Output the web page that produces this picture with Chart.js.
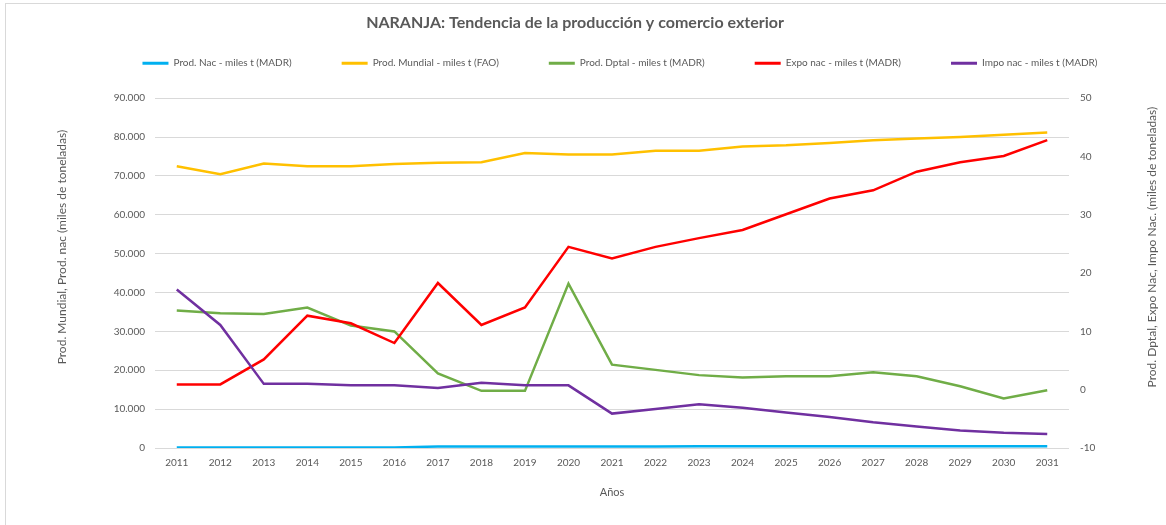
<!DOCTYPE html>
<html>
<head>
<meta charset="utf-8">
<title>Naranja</title>
<script src="https://cdn.jsdelivr.net/npm/chart.js@4.4.0/dist/chart.umd.min.js"></script>
<style>
  html, body { margin: 0; padding: 0; background: #fff; }
  #wrap { position: relative; width: 1166px; height: 525px; overflow: hidden; }
  #frame { position: absolute; left: 5px; top: 3px; width: 1200px; height: 600px;
           border-left: 1px solid #d9d9d9; border-top: 1px solid #d9d9d9; }
  canvas { position: absolute; left: 0; top: 0; }
</style>
</head>
<body>
<div id="wrap">
  <div id="frame"></div>
  <canvas id="myChart" width="1166" height="525"></canvas>
</div>
<script>
const years = ['2011', '2012', '2013', '2014', '2015', '2016', '2017', '2018', '2019', '2020',
  '2021', '2022', '2023', '2024', '2025', '2026', '2027', '2028', '2029', '2030', '2031'];

// eje izquierdo (miles de t)
const prodNac = [120, 120, 120, 120, 130, 130, 390, 400, 400, 410, 410, 410, 420, 420, 420, 430, 430, 430, 440, 440, 450];
const prodMundial = [72500, 70450, 73200, 72500, 72500, 73100, 73400, 73500, 75900, 75500, 75500,
  76500, 76500, 77600, 77900, 78500, 79200, 79600, 80000, 80600, 81200];

// eje derecho (miles de t)
const prodDptal = [13.6, 13.1, 13.0, 14.1, 11.0, 10.0, 2.8, -0.2, -0.2, 18.2, 4.3,
  3.4, 2.5, 2.1, 2.3, 2.3, 3.0, 2.3, 0.6, -1.5, -0.1];
const expoNac = [0.9, 0.9, 5.2, 12.7, 11.4, 8.0, 18.3, 11.1, 14.1, 24.5, 22.5,
  24.5, 26.0, 27.4, 30.1, 32.8, 34.2, 37.4, 39.0, 40.1, 42.8];
const impoNac = [17.2, 11.1, 1.0, 1.0, 0.75, 0.75, 0.3, 1.2, 0.75, 0.75, -4.1,
  -3.3, -2.5, -3.1, -3.9, -4.7, -5.6, -6.3, -7.0, -7.4, -7.6];

const leftTicks = [0, 90000, 10000];   // min, max, paso
const rightTicks = [-10, 50, 10];

const txt = '#595959';
const fam = 'Lato, "Open Sans", sans-serif';
const leftTitle = 'Prod. Mundial, Prod. nac (miles de toneladas)';
const rightTitle = 'Prod. Dptal, Expo Nac, Impo Nac. (miles de toneladas)';

const fmtMiles = v => String(v).replace(/\B(?=(\d{3})+(?!\d))/g, '.');

const serie = (label, data, color, axis, order) => ({
  label, data, yAxisID: axis, order,
  borderColor: color, backgroundColor: color,
  borderWidth: 2.5, pointRadius: 0, pointHoverRadius: 0, tension: 0, fill: false
});

// la leyenda usa un padding grande para separar los items; se compacta en vertical
const legendTweak = {
  id: 'legendTweak',
  beforeInit(chart) {
    const fit = chart.legend.fit;
    chart.legend.fit = function () {
      fit.call(this);
      this.height -= 21;
    };
  },
  afterLayout(chart) {
    const lg = chart.legend;
    lg.left += 37;
    lg.right += 37;
    lg.top -= 41;   // solo sube el borde superior, el recorte sigue cubriendo el texto
    const tb = chart.titleBlock;
    tb.left -= 8;
    tb.right -= 8;
  }
};

// títulos de los dos ejes verticales, leídos de abajo hacia arriba
const axisTitles = {
  id: 'axisTitles',
  afterDraw(chart) {
    const c = chart.ctx;
    const area = chart.chartArea;
    const cy = (area.top + area.bottom) / 2 - 26;
    [[leftTitle, 62], [rightTitle, 1152]].forEach(([text, x]) => {
      c.save();
      c.translate(x, cy);
      c.rotate(-Math.PI / 2);
      c.font = '12px ' + fam;
      c.fillStyle = txt;
      c.textAlign = 'center';
      c.textBaseline = 'middle';
      c.fillText(text, 0, 0);
      c.restore();
    });
  }
};

const ctx = document.getElementById('myChart');
new Chart(ctx, {
  type: 'line',
  data: {
    labels: years,
    datasets: [
      serie('Prod. Nac - miles t (MADR)', prodNac, '#00B0F0', 'y', 5),
      serie('Prod. Mundial - miles t (FAO)', prodMundial, '#FFC000', 'y', 4),
      serie('Prod. Dptal - miles t (MADR)', prodDptal, '#70AD47', 'y1', 3),
      serie('Expo nac - miles t (MADR)', expoNac, '#FF0000', 'y1', 2),
      serie('Impo nac - miles t (MADR)', impoNac, '#7030A0', 'y1', 1)
    ]
  },
  options: {
    responsive: false,
    animation: false,
    devicePixelRatio: 1,
    layout: { padding: { left: 0, right: 0, top: 0, bottom: 20 } },
    plugins: {
      tooltip: { enabled: false },
      title: {
        display: true,
        text: 'NARANJA: Tendencia de la producción y comercio exterior',
        color: txt,
        font: { family: fam, size: 16, weight: 'bold' },
        padding: { top: 13, bottom: 17 }
      },
      legend: {
        display: true,
        labels: {
          color: txt,
          font: { family: fam, size: 10 },
          boxWidth: 26,
          boxHeight: 3,
          padding: 50,
          generateLabels(chart) {
            return chart.data.datasets.map((ds, i) => ({
              text: ds.label,
              fillStyle: ds.borderColor,
              strokeStyle: ds.borderColor,
              lineWidth: 0,
              fontColor: txt,
              hidden: false,
              datasetIndex: i
            }));
          }
        }
      }
    },
    scales: {
      x: {
        type: 'category',
        offset: true,
        grid: { display: false, drawTicks: false },
        border: { display: false },
        ticks: { color: txt, font: { family: fam, size: 10 }, padding: 9, maxRotation: 0, autoSkip: false },
        title: { display: true, text: 'Años', color: txt, font: { family: fam, size: 11 }, padding: { top: 4, bottom: 6 } },
        afterFit(scale) { scale.height = 57; }
      },
      y: {
        position: 'left',
        min: leftTicks[0], max: leftTicks[1],
        grid: { color: '#d9d9d9', lineWidth: 1, drawTicks: false },
        border: { display: false },
        ticks: { stepSize: leftTicks[2], color: txt, font: { family: fam, size: 10 }, padding: 10,
          callback: v => fmtMiles(v) },
        title: { display: false },
        afterFit(scale) { scale.width = 155; }
      },
      y1: {
        position: 'right',
        min: rightTicks[0], max: rightTicks[1],
        grid: { display: false, drawOnChartArea: false, drawTicks: false },
        border: { display: false },
        ticks: { stepSize: rightTicks[2], color: txt, font: { family: fam, size: 10 }, padding: 11 },
        title: { display: false },
        afterFit(scale) { scale.width = 97; }
      }
    }
  },
  plugins: [legendTweak, axisTitles]
});
</script>
</body>
</html>
